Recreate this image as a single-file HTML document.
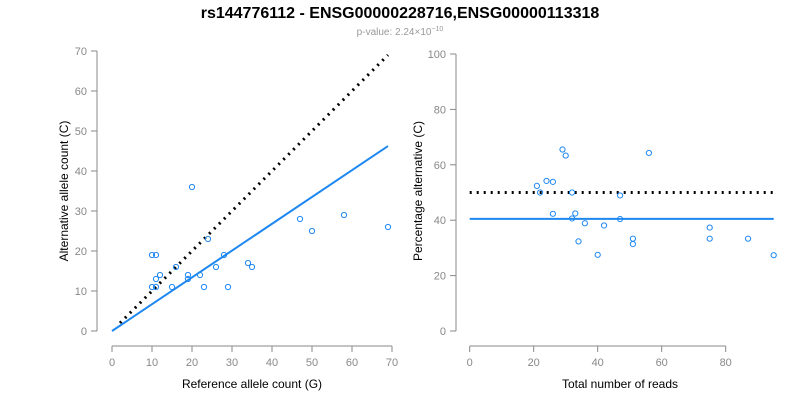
<!DOCTYPE html>
<html><head><meta charset="utf-8"><style>
html,body{margin:0;padding:0;background:#fff;}
svg{display:block;font-family:"Liberation Sans",Arial,sans-serif;}
</style></head><body>
<svg id="chart" width="800" height="400" viewBox="0 0 800 400">
<text x="400" y="18" text-anchor="middle" font-size="16" font-weight="bold">rs144776112 - ENSG00000228716,ENSG00000113318</text>
<text x="400" y="35" text-anchor="middle" font-size="10" fill="#999">p-value: 2.24×10<tspan dy="-4" font-size="7">−10</tspan></text>
<g id="left"></g>
<g id="right"></g>
</svg>
<script>
const refCounts = [20,10,11,16,11,12,10,11,15,19,19,22,23,24,26,28,29,34,35,47,50,58,69];
const altCounts = [36,19,19,16,13,14,11,11,11,14,13,14,11,23,16,19,11,17,16,28,25,29,26];
const leftXTicks = [0,10,20,30,40,50,60,70];
const leftYTicks = [0,10,20,30,40,50,60,70];
const rightXTicks = [0,20,40,60,80];
const rightYTicks = [0,20,40,60,80,100];
const fitSlope = [0.67];
const fitPercent = [40.5];
const nullPercent = [50];

const NS="http://www.w3.org/2000/svg";
function mk(parent,tag,attrs){const e=document.createElementNS(NS,tag);for(const k in attrs)e.setAttribute(k,attrs[k]);parent.appendChild(e);return e;}
const AX="#888", LAB="#888", BLUE="#1e88f0";

// left scales
const lx=v=>112+v*4, ly=v=>331-v*4;
// right scales
const rx=v=>469.7+v*3.2, ry=v=>331-v*2.77;

const L=document.getElementById('left'), R=document.getElementById('right');

function axes(g,xs,ys,xTicks,yTicks,xAxisY,yAxisX,xTitle,yTitle,xTitleX,yTitleX,pfx){
  const xl=mk(g,'line',{x1:xs(xTicks[0]),x2:xs(xTicks[xTicks.length-1]),y1:xAxisY,y2:xAxisY,stroke:AX});
  
  
  xTicks.forEach(t=>{
    const tl=mk(g,'line',{x1:xs(t),x2:xs(t),y1:xAxisY,y2:xAxisY+6,stroke:AX});
    
    
    const tx=mk(g,'text',{x:xs(t),y:xAxisY+20,'text-anchor':'middle','font-size':11,fill:LAB});
    tx.textContent=t;
    
    
  });
  const yl=mk(g,'line',{x1:yAxisX,x2:yAxisX,y1:ys(yTicks[0]),y2:ys(yTicks[yTicks.length-1]),stroke:AX});
  
  
  yTicks.forEach(t=>{
    const tl=mk(g,'line',{x1:yAxisX-6,x2:yAxisX,y1:ys(t),y2:ys(t),stroke:AX});
    
    
    const tx=mk(g,'text',{x:yAxisX-10,y:ys(t)+4,'text-anchor':'end','font-size':11,fill:LAB});
    tx.textContent=t;
    
    
  });
  const xt=mk(g,'text',{x:xTitleX,y:388,'text-anchor':'middle','font-size':12});
  xt.textContent=xTitle;
  
  
  const cy=191;
  const yt=mk(g,'text',{x:yTitleX,y:cy,'text-anchor':'middle','font-size':12,transform:`rotate(-90 ${yTitleX} ${cy})`});
  yt.textContent=yTitle;
  
  
}
axes(L,lx,ly,leftXTicks,leftYTicks,346,97,'Reference allele count (G)','Alternative allele count (C)',252,68,'left');
axes(R,rx,ry,rightXTicks,rightYTicks,346,456,'Total number of reads','Percentage alternative (C)',620,422,'right');

// left lines
const maxRef=Math.max(...refCounts);
const d1=mk(L,'line',{x1:lx(2),y1:ly(2),x2:lx(maxRef),y2:ly(maxRef),stroke:'#000','stroke-width':3,'stroke-dasharray':'2 5'});


const f1=mk(L,'line',{x1:lx(0),y1:ly(0),x2:lx(maxRef),y2:ly(maxRef*fitSlope[0]),stroke:BLUE,'stroke-width':2});


refCounts.forEach((r,i)=>{
  const c=mk(L,'circle',{cx:lx(r),cy:ly(altCounts[i]),r:2.6,fill:'none',stroke:BLUE,'stroke-width':1});
  
  
});

// right
const totals=refCounts.map((r,i)=>r+altCounts[i]);
const maxT=Math.max(...totals);
const d2=mk(R,'line',{x1:rx(0),y1:ry(nullPercent[0]),x2:rx(maxT),y2:ry(nullPercent[0]),stroke:'#000','stroke-width':3,'stroke-dasharray':'2 5'});


const f2=mk(R,'line',{x1:rx(0),y1:ry(fitPercent[0]),x2:rx(maxT),y2:ry(fitPercent[0]),stroke:BLUE,'stroke-width':2});


totals.forEach((t,i)=>{
  const c=mk(R,'circle',{cx:rx(t),cy:ry(altCounts[i]/t*100),r:2.6,fill:'none',stroke:BLUE,'stroke-width':1});
  
  
});
</script>
</body></html>
